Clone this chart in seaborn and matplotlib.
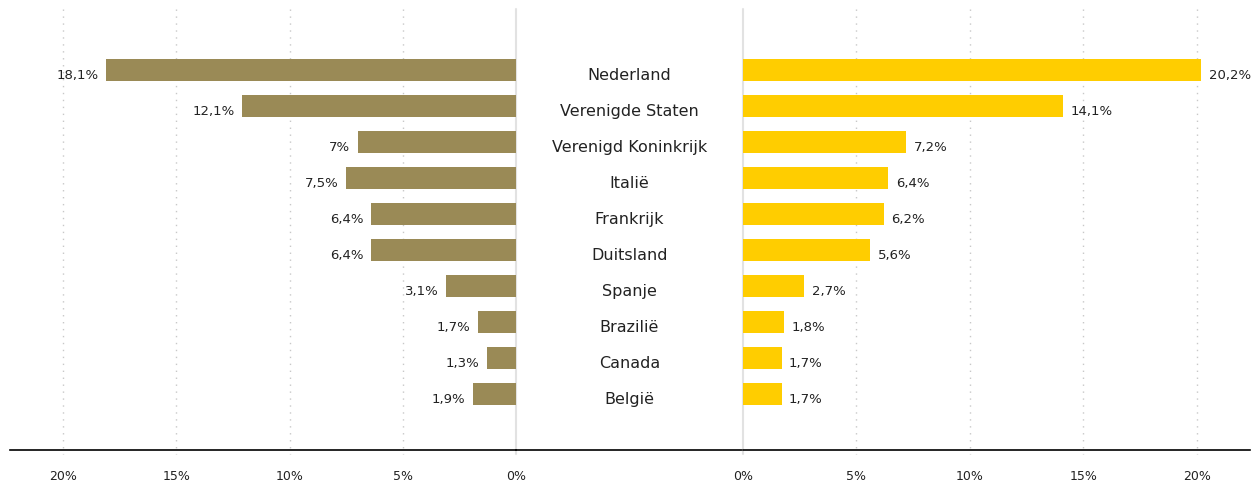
import pandas as pd
import seaborn as sns
import matplotlib.pyplot as plt

# data
landen = ['Nederland', 'Verenigde Staten', 'Verenigd Koninkrijk', 'Italië', 'Frankrijk',
          'Duitsland', 'Spanje', 'Brazilië', 'Canada', 'België']
links = [18.1, 12.1, 7.0, 7.5, 6.4, 6.4, 3.1, 1.7, 1.3, 1.9]
rechts = [20.2, 14.1, 7.2, 6.4, 6.2, 5.6, 2.7, 1.8, 1.7, 1.7]
ticks = [0, 5, 10, 15, 20]

df = pd.DataFrame({'land': landen, 'links': links, 'rechts': rechts})

sns.set_theme(style='white')
plt.rcParams['font.family'] = ['DejaVu Sans']
tekst = '#222222'

fig = plt.figure(figsize=(12.58, 4.81), dpi=100)
W, H = 1258, 481
bottom = (H - 451) / H
height = (451 - 10) / H
ax_l = fig.add_axes([10 / W, bottom, (516 - 10) / W, height])
ax_m = fig.add_axes([516 / W, bottom, (743 - 516) / W, height])
ax_r = fig.add_axes([743 / W, bottom, (1250 - 743) / W, height])

sns.barplot(data=df, x='links', y='land', ax=ax_l, color='#9A8A56', width=0.62,
            saturation=1, orient='h', linewidth=0)
sns.barplot(data=df, x='rechts', y='land', ax=ax_r, color='#FFCD00', width=0.62,
            saturation=1, orient='h', linewidth=0)

xmax = 22.35
ax_l.set_xlim(xmax, 0)
ax_r.set_xlim(0, xmax)


def fmt(v):
    s = f'{v:.1f}'.replace('.', ',')
    if s.endswith(',0'):
        s = s[:-2]
    return s + '%'


for ax in (ax_l, ax_r, ax_m):
    ax.set_ylim(10.55, -1.695)
    ax.set_ylabel('')
    ax.set_xlabel('')
    ax.set_yticks([])
    for s in ['top', 'left', 'right']:
        ax.spines[s].set_visible(False)
    ax.spines['bottom'].set_color('black')
    ax.spines['bottom'].set_linewidth(1.2)
    ax.set_facecolor('none')

for ax in (ax_l, ax_r):
    ax.set_xticks(ticks)
    ax.set_xticklabels([f'{t}%' for t in ticks], fontsize=9, color=tekst)
    ax.tick_params(axis='x', length=0, pad=14)
    for t in ticks[1:]:
        ax.plot([t, t], [-1.695, 10.67], ls=(0, (1, 4)), color='#c8c8c8', lw=1,
                clip_on=False, zorder=0)
    ax.plot([0, 0], [-1.695, 10.67], color='#e2e2e2', lw=1.5, clip_on=False, zorder=0)

ax_m.set_xticks([])
ax_m.set_xlim(0, 1)

for i, (land, l, r) in enumerate(zip(landen, links, rechts)):
    ax_l.text(l + 0.33, i + 0.13, fmt(l), ha='right', va='center', fontsize=9.5, color=tekst)
    ax_r.text(r + 0.33, i + 0.13, fmt(r), ha='left', va='center', fontsize=9.5, color=tekst)
    ax_m.text(0.5, i + 0.13, land, ha='center', va='center', fontsize=11.5, color=tekst)

fig.savefig('out.png', dpi=100)
